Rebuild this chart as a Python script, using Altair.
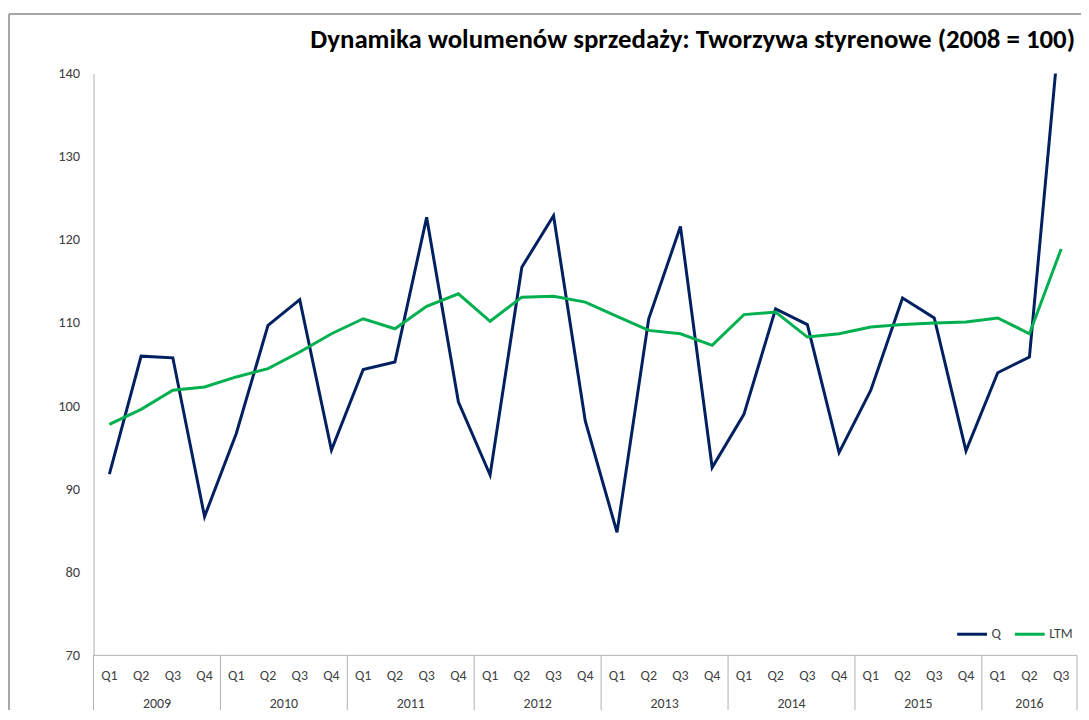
import altair as alt
import pandas as pd

# ---- data ----
years = ["2009", "2010", "2011", "2012", "2013", "2014", "2015", "2016"]
quarters = ["Q1", "Q2", "Q3", "Q4"]
q_values = [91.8, 106.0, 105.8, 86.7,
            96.7, 109.7, 112.8, 94.7,
            104.4, 105.3, 122.7, 100.5,
            91.7, 116.7, 122.9, 98.2,
            84.8, 110.5, 121.6, 92.6,
            99.0, 111.7, 109.8, 94.4,
            101.9, 113.0, 110.6, 94.6,
            104.0, 105.9, 147.5]
ltm_values = [97.8, 99.6, 101.9, 102.3,
              103.5, 104.5, 106.5, 108.7,
              110.5, 109.3, 112.0, 113.5,
              110.2, 113.1, 113.2, 112.5,
              110.8, 109.1, 108.7, 107.3,
              111.0, 111.3, 108.3, 108.7,
              109.5, 109.8, 110.0, 110.1,
              110.6, 108.7, 118.9]
series_names = ["Q", "LTM"]
series_colors = ["#002060", "#00B050"]
title_text = "Dynamika wolumenów sprzedaży: Tworzywa styrenowe (2008 = 100)"
y_ticks = [70, 80, 90, 100, 110, 120, 130, 140]

n = len(q_values)
idx = list(range(n))
base = pd.DataFrame({
    "idx": idx,
    "quarter": [quarters[i % 4] for i in idx],
    "year": [years[i // 4] for i in idx],
})
long_df = pd.concat([
    base.assign(series="Q", value=q_values),
    base.assign(series="LTM", value=ltm_values),
], ignore_index=True)

year_df = pd.DataFrame({
    "year": years,
    "mid": [(4 * k + min(4 * k + 3, n - 1)) / 2 for k in range(len(years))],
})
sep_df = pd.DataFrame({"b": [4 * k - 0.5 for k in range(len(years))] + [n - 0.5]})
title_df = pd.DataFrame({"t": [title_text]})

W, H = 989, 585
PB = 55
FONT = "Carlito, Lato, Open Sans, sans-serif"
LBL = "#404040"
AX = "#b0b0b0"

xscale = alt.Scale(domain=[-0.5, n - 0.5], nice=False, zero=False)
yscale = alt.Scale(domain=[70, 140], nice=False, zero=False)
yaxis = alt.Axis(values=y_ticks, grid=False, ticks=False,
                 domainColor=AX, domainWidth=1, labelFont=FONT,
                 labelFontSize=14.5, labelColor=LBL, labelPadding=14,
                 title=None)

lines = alt.Chart(long_df).mark_line(strokeWidth=3, clip=True).encode(
    x=alt.X("idx:Q", scale=xscale, axis=None),
    y=alt.Y("value:Q", scale=yscale, axis=yaxis),
    color=alt.Color("series:N",
                    scale=alt.Scale(domain=series_names, range=series_colors),
                    legend=alt.Legend(orient="none", legendX=867, legendY=547,
                                      direction="horizontal", title=None,
                                      symbolType="stroke", symbolSize=900,
                                      symbolStrokeWidth=3, labelFont=FONT,
                                      labelFontSize=14, labelColor=LBL,
                                      labelOffset=3, columnPadding=7, padding=0)),
)

xline = alt.Chart(pd.DataFrame({"v": [70]})).mark_rule(color=AX, strokeWidth=1).encode(
    y=alt.Y("v:Q", scale=yscale, axis=yaxis), x=alt.value(0), x2=alt.value(W))

seps = alt.Chart(sep_df).mark_rule(color=AX, strokeWidth=1).encode(
    x=alt.X("b:Q", scale=xscale, axis=None), y=alt.value(H), y2=alt.value(H + PB))

qlabels = alt.Chart(base).mark_text(font=FONT, fontSize=14, color=LBL,
                                     baseline="middle").encode(
    x=alt.X("idx:Q", scale=xscale, axis=None), y=alt.value(H + 21), text="quarter:N")

ylabels = alt.Chart(year_df).mark_text(font=FONT, fontSize=14, color=LBL,
                                        baseline="middle").encode(
    x=alt.X("mid:Q", scale=xscale, axis=None), y=alt.value(H + 49), text="year:N")

title = alt.Chart(title_df).mark_text(font=FONT, fontSize=27, fontWeight="bold",
                                       color="#000000", align="right",
                                       baseline="alphabetic").encode(
    x=alt.value(W - 2), y=alt.value(-26), text="t:N")

frame_left = alt.Chart(title_df).mark_rule(color="#8a8a8a", strokeWidth=1.5).encode(
    x=alt.value(-85), y=alt.value(-60), y2=alt.value(H + PB))
frame_top = alt.Chart(title_df).mark_rule(color="#8a8a8a", strokeWidth=1.5).encode(
    y=alt.value(-60), x=alt.value(-85), x2=alt.value(W + 4))

chart = alt.layer(frame_left, frame_top, xline, seps, qlabels, ylabels, title, lines).properties(
    width=W, height=H,
    autosize=alt.AutoSizeParams(type="none"),
    padding={"left": 86, "top": 64, "right": 4, "bottom": PB},
).configure_view(stroke=None)

chart.save("out.html", embed_options={"renderer": "svg", "actions": False})
